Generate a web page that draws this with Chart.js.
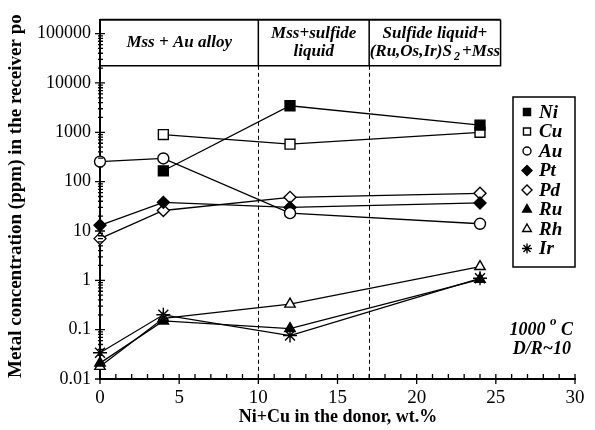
<!DOCTYPE html>
<html>
<head>
<meta charset="utf-8">
<script src="https://cdn.jsdelivr.net/npm/chart.js@4.4.1/dist/chart.umd.min.js"></script>
<style>
html,body{margin:0;padding:0;background:#fff;}
#wrap{width:595px;height:430px;}
</style>
</head>
<body>
<div id="wrap"><canvas id="c" width="595" height="430"></canvas></div>
<script>
// Ni+Cu in the donor (wt.%)
let donor = [0, 4, 12, 24];
// concentrations in the receiver (ppm), null where not measured
let ni = [null, 166, 3450, 1400];
let cu = [null, 900, 575, 1000];
let au = [255, 295, 23, 14];
let pt = [13, 38, 30, 37];
let pd = [7, 26, 48, 58];
let ru = [0.021, 0.15, 0.105, 1.05];
let rh = [0.018, 0.17, 0.33, 1.9];
let ir = [0.034, 0.2, 0.076, 1.1];

let yTicks = [0.01, 0.1, 1, 10, 100, 1000, 10000, 100000];
let xTicks = [0, 5, 10, 15, 20, 25, 30];
let fields = [
  {x0: 0, x1: 10, lines: ["Mss + Au alloy"]},
  {x0: 10, x1: 17, lines: ["Mss+sulfide", "liquid"]},
  {x0: 17, x1: 25.3, lines: ["Sulfide liquid+", "(Ru,Os,Ir)S|2|+Mss"]}
];

const serif = "'Liberation Serif','Times New Roman',serif";

function pts(arr){ return donor.map((x,i)=>({x:x, y:arr[i]})); }

function ds(label, arr, style, filled, r){
  return {
    label: label, data: pts(arr),
    borderColor: "#000", borderWidth: 1.3,
    pointStyle: style, pointRadius: r, pointHoverRadius: r,
    pointBackgroundColor: filled ? "#000" : "#fff",
    pointBorderColor: "#000", pointBorderWidth: 1.4,
    tension: 0, fill: false, clip: false
  };
}

let sets = [
  ds("Ni", ni, "rect", true, 7),
  ds("Cu", cu, "rect", false, 7),
  ds("Au", au, "circle", false, 5.5),
  ds("Pt", pt, "rectRot", true, 6),
  ds("Pd", pd, "rectRot", false, 6),
  ds("Ru", ru, "triangle", true, 6),
  ds("Rh", rh, "triangle", false, 6),
  ds("Ir", ir, "star", false, 7)
];

let deco = {
  id: "deco",
  beforeDatasetsDraw(chart){
    let c = chart.ctx, xs = chart.scales.x, a = chart.chartArea;
    let hb = a.top + 46;
    c.save();
    c.strokeStyle = "#000"; c.lineWidth = 1;
    c.setLineDash([4, 3]);
    [10, 17].forEach(v=>{
      let px = Math.round(xs.getPixelForValue(v)) + 0.5;
      c.beginPath(); c.moveTo(px, hb); c.lineTo(px, a.bottom); c.stroke();
    });
    c.restore();
  },
  afterDraw(chart){
    let c = chart.ctx, xs = chart.scales.x, ys = chart.scales.y, a = chart.chartArea;
    c.save();
    c.strokeStyle = "#000"; c.fillStyle = "#000";
    // header table
    let top = a.top, hb = a.top + 46;
    let xl = xs.getPixelForValue(0), xr = xs.getPixelForValue(25.3);
    c.lineWidth = 2;
    c.beginPath(); c.moveTo(xl, top); c.lineTo(xr, top); c.stroke();
    c.lineWidth = 1.5;
    c.beginPath(); c.moveTo(xl, hb); c.lineTo(xr, hb); c.lineTo(xr, top); c.stroke();
    c.beginPath();
    [10, 17].forEach(v=>{ let px = xs.getPixelForValue(v); c.moveTo(px, top); c.lineTo(px, hb); });
    c.stroke();
    let hf = "bold italic 17px " + serif, sf = "bold italic 12px " + serif;
    c.font = hf;
    c.textBaseline = "middle";
    fields.forEach(f=>{
      let cx = (xs.getPixelForValue(f.x0) + xs.getPixelForValue(f.x1)) / 2;
      let n = f.lines.length;
      f.lines.forEach((t, i)=>{
        let cy = n == 1 ? (top + hb) / 2 : top + 14 + i * 18;
        let parts = t.split("|");
        if (parts.length == 1){
          c.textAlign = "center"; c.fillText(t, cx, cy);
        } else {
          c.font = hf;
          let w0 = c.measureText(parts[0] + " ").width, w2 = c.measureText(parts[2]).width;
          c.font = sf;
          let w1 = c.measureText(parts[1]).width;
          let x = cx - (w0 + w1 + w2) / 2;
          c.textAlign = "left";
          c.font = hf;
          c.fillText(parts[0], x, cy);
          c.font = sf;
          c.fillText(parts[1], x + w0 - 2, cy + 5);
          c.font = hf;
          c.fillText(parts[2], x + w0 + w1, cy);
        }
      });
    });
    // axis ticks (inward minor, crossing major)
    c.lineWidth = 1.3;
    c.beginPath();
    for (let v = 0; v <= 30; v++){
      let px = xs.getPixelForValue(v);
      if (v % 5 == 0){ c.moveTo(px, a.bottom - 5); c.lineTo(px, a.bottom + 5); }
      else { c.moveTo(px, a.bottom - 5); c.lineTo(px, a.bottom); }
    }
    for (let e = -2; e <= 5; e++){
      let py = ys.getPixelForValue(Math.pow(10, e));
      c.moveTo(a.left - 5, py); c.lineTo(a.left + 5, py);
      if (e < 5){
        for (let m = 2; m <= 9; m++){
          let q = ys.getPixelForValue(m * Math.pow(10, e));
          c.moveTo(a.left - 2, q); c.lineTo(a.left + 3, q);
        }
      }
    }
    c.stroke();
    // legend box
    let lx = 513, ly = 97, lw = 62, lh = 170;
    c.lineWidth = 1.5;
    c.strokeRect(lx, ly, lw, lh);
    c.font = "bold italic 19px " + serif;
    c.textAlign = "left"; c.textBaseline = "middle";
    chart.data.datasets.forEach((d, i)=>{
      let y = ly + 15 + i * 19.5;
      c.fillStyle = d.pointBackgroundColor; c.strokeStyle = "#000"; c.lineWidth = 1.4;
      Chart.helpers.drawPoint(c, {pointStyle: d.pointStyle, radius: d.pointStyle == "circle" ? 4 : 5, rotation: 0, borderWidth: 1.4}, lx + 14, y);
      c.fillStyle = "#000";
      c.fillText(d.label, lx + 26, y + 1);
    });
    // condition note
    c.textAlign = "right";
    c.font = "bold italic 18px " + serif;
    let tx = 573, ty = 330;
    let wc = c.measureText(" C").width;
    c.fillText(" C", tx, ty);
    c.font = "bold italic 13px " + serif;
    let wo = c.measureText("o").width;
    c.fillText("o", tx - wc, ty - 8);
    c.font = "bold italic 18px " + serif;
    c.fillText("1000 ", tx - wc - wo, ty);
    c.fillText("D/R~10", tx - 2, ty + 19);
    // axis titles
    c.textAlign = "center";
    c.font = "bold 18px " + serif;
    c.fillText("Ni+Cu in the donor, wt.%", 338, 417);
    c.save();
    c.translate(16, 378); c.rotate(-Math.PI / 2);
    c.textAlign = "left";
    c.font = "bold 19px " + serif;
    c.fillText("Metal concentration (ppm) in the receiver po", 0, 0);
    c.restore();
    c.restore();
  }
};

new Chart(document.getElementById("c"), {
  type: "line",
  data: { datasets: sets },
  options: {
    responsive: false, animation: false,
    layout: { padding: { top: 15, right: 20, left: 0, bottom: 0 } },
    plugins: { legend: { display: false }, tooltip: { enabled: false } },
    scales: {
      x: {
        type: "linear", min: 0, max: 30,
        grid: { display: false, drawTicks: false },
        border: { display: true, color: "#000", width: 2 },
        afterBuildTicks: s => { s.ticks = xTicks.map(v=>({value: v})); },
        afterFit: s => { s.height = 51; },
        ticks: { color: "#000", padding: 8, font: { family: serif, size: 19 } }
      },
      y: {
        type: "logarithmic", min: 0.01, max: Math.pow(10, 5.28),
        grid: { display: false, drawTicks: false },
        border: { display: true, color: "#000", width: 2 },
        afterBuildTicks: s => { s.ticks = yTicks.map(v=>({value: v})); },
        afterFit: s => { s.width = 100; },
        ticks: { color: "#000", padding: 9, font: { family: serif, size: 18 },
                 callback: v => String(v) }
      }
    }
  },
  plugins: [deco]
});
</script>
</body>
</html>
